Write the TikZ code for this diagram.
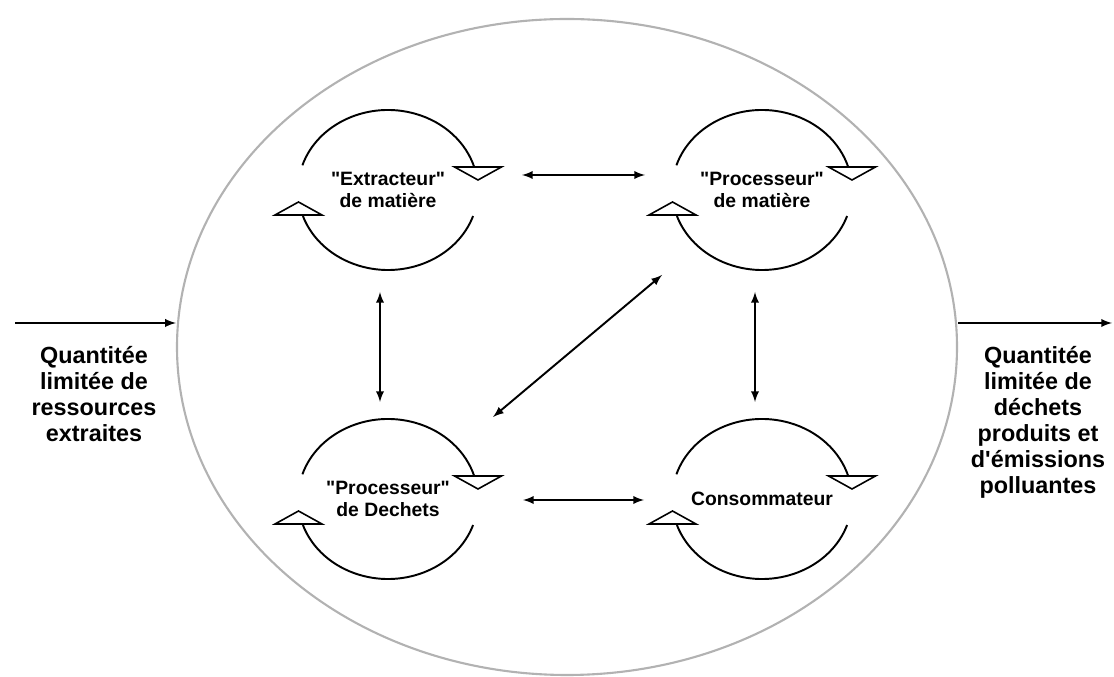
\documentclass[tikz,border=0pt]{standalone}
\usepackage{fontspec}
\setmainfont{Liberation Sans}
\usetikzlibrary{shapes.geometric}
\begin{document}
\begin{tikzpicture}
    [
    actor/.style={align=center,font=\bfseries\fontsize{11}{12.5}\selectfont},
    outside/.style={align=center,font=\bfseries\fontsize{13.3}{14.8}\selectfont},
    system/.style={ellipse,draw=black!30,line width=1.2pt,minimum width=15.6cm,minimum height=13.12cm},
    turn/.style={line width=1.1pt},
    tri/.style={line width=0.9pt,fill=white,line join=miter},
    link/.style={latex-latex,line width=1.1pt},
    flow/.style={-latex,line width=1.1pt}
    ]
    \useasboundingbox (0,0) rectangle (22.28,13.54);
    \node (sys) at (11.34,6.60) [system] {};
    \node (ex) at (7.76,9.74) [actor] {\textquotedbl Extracteur\textquotedbl\\de matière};
    \node (pm) at (15.24,9.74) [actor] {\textquotedbl Processeur\textquotedbl\\de matière};
    \node (pd) at (7.76,3.56) [actor] {\textquotedbl Processeur\textquotedbl\\de Dechets};
    \node (co) at (15.24,3.56) [actor] {Consommateur};
    \foreach \n in {ex,pm,pd,co} {
      \draw [turn] ([shift={(162:1.8cm and 1.6cm)}]\n.center) arc [start angle=162,end angle=16,x radius=1.8cm,y radius=1.6cm];
      \draw [turn] ([shift={(-19:1.8cm and 1.6cm)}]\n.center) arc [start angle=-19,end angle=-161,x radius=1.8cm,y radius=1.6cm];
      \draw [tri] ([shift={(1.33,0.46)}]\n.center) -- ++(0.94,0) -- ([shift={(1.80,0.20)}]\n.center) -- cycle;
      \draw [tri] ([shift={(-2.26,-0.50)}]\n.center) -- ++(0.94,0) -- ([shift={(-1.79,-0.24)}]\n.center) -- cycle;
    }
    \draw [link] ([shift={(2.68,0.30)}]ex.center) to ([shift={(-2.34,0.30)}]pm.center);
    \draw [link] ([shift={(2.70,-0.02)}]pd.center) to ([shift={(-2.36,-0.02)}]co.center);
    \draw [link] ([shift={(-0.16,-2.04)}]ex.center) to ([shift={(-0.16,1.94)}]pd.center);
    \draw [link] ([shift={(-0.14,-2.04)}]pm.center) to ([shift={(-0.14,1.94)}]co.center);
    \draw [link] ([shift={(-2.00,-1.70)}]pm.center) to ([shift={(2.10,1.64)}]pd.center);
    \coordinate (in) at (0.30,7.08);
    \coordinate (out) at (22.24,7.08);
    \draw [flow] (in) to (in -| sys.west);
    \draw [flow] (out -| sys.east) to (out);
    \node (res) at (1.88,5.66) [outside] {Quantitée\\limitée de\\ressources\\extraites};
    \node (dec) at (20.76,5.10) [outside] {Quantitée\\limitée de\\déchets\\produits et\\d\textquotesingle émissions\\polluantes};
  \end{tikzpicture}
\end{document}
